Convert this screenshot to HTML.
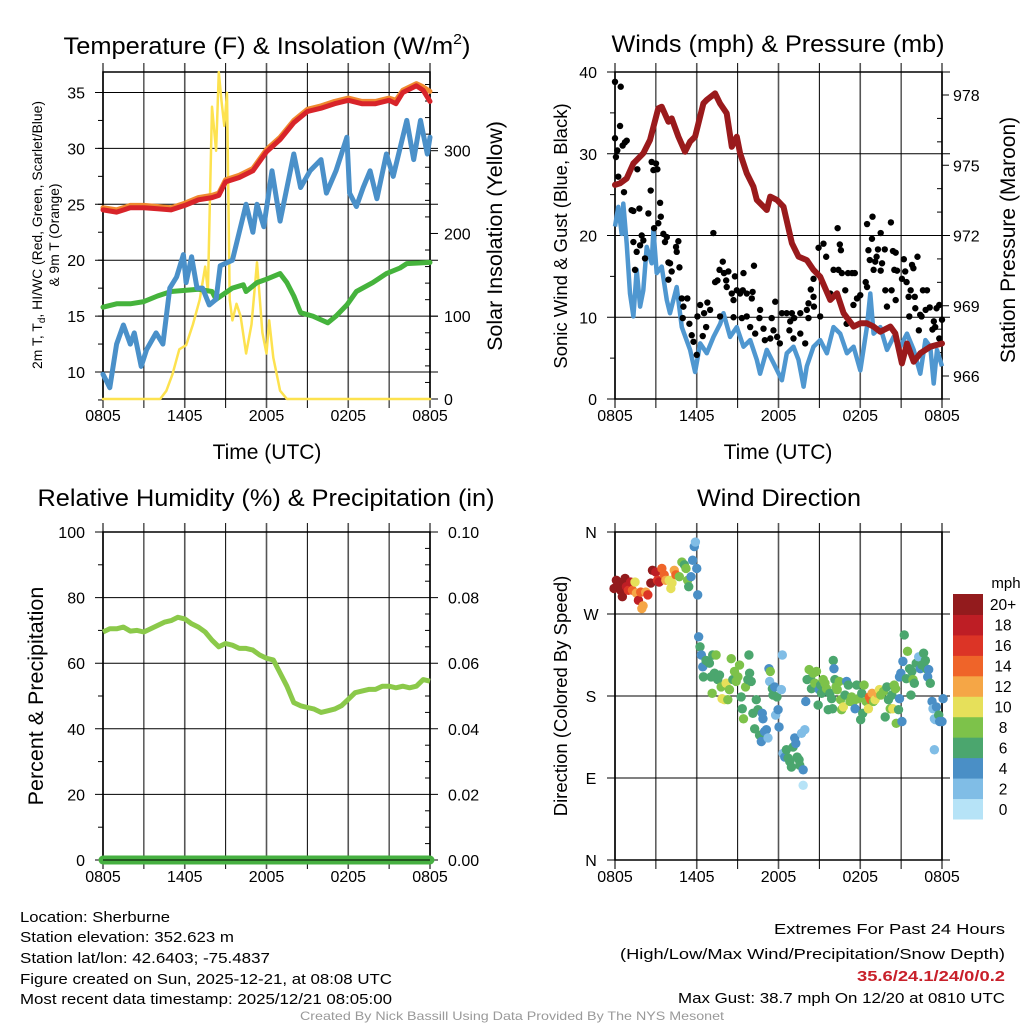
<!DOCTYPE html>
<html><head><meta charset="utf-8"><style>
html,body{margin:0;padding:0;background:#fff;}
svg{display:block;font-family:"Liberation Sans",sans-serif;}
</style></head><body>
<svg id="fig" width="1024" height="1024" viewBox="0 0 1024 1024" xmlns="http://www.w3.org/2000/svg">
<rect x="0" y="0" width="1024" height="1024" fill="#fff"/>
<g id="p1"></g>
<g id="p2"></g>
<g id="p3"></g>
<g id="p4"></g>
<g font-size="15" fill="#000">
<text x="20" y="922" textLength="150" lengthAdjust="spacingAndGlyphs">Location: Sherburne</text>
<text x="20" y="942" textLength="214" lengthAdjust="spacingAndGlyphs">Station elevation: 352.623 m</text>
<text x="20" y="963" textLength="250" lengthAdjust="spacingAndGlyphs">Station lat/lon: 42.6403; -75.4837</text>
<text x="20" y="984" textLength="372" lengthAdjust="spacingAndGlyphs">Figure created on Sun, 2025-12-21, at 08:08 UTC</text>
<text x="20" y="1004" textLength="372" lengthAdjust="spacingAndGlyphs">Most recent data timestamp: 2025/12/21 08:05:00</text>
</g>
<g font-size="15" fill="#000" text-anchor="end">
<text x="1005" y="934" textLength="231" lengthAdjust="spacingAndGlyphs">Extremes For Past 24 Hours</text>
<text x="1005" y="959" textLength="385" lengthAdjust="spacingAndGlyphs">(High/Low/Max Wind/Precipitation/Snow Depth)</text>
<text x="1005" y="981" textLength="148" lengthAdjust="spacingAndGlyphs" fill="#c8202a" font-weight="bold">35.6/24.1/24/0/0.2</text>
<text x="1005" y="1003" textLength="327" lengthAdjust="spacingAndGlyphs">Max Gust: 38.7 mph On 12/20 at 0810 UTC</text>
</g>
<text x="512" y="1020" font-size="12" fill="#999" text-anchor="middle" textLength="424" lengthAdjust="spacingAndGlyphs">Created By Nick Bassill Using Data Provided By The NYS Mesonet</text>
</svg>
<script>
// ---------- DATA ----------
const timeLabels = ["0805","1405","2005","0205","0805"];
const tempTicks = [10,15,20,25,30,35];
const insolTicks = [0,100,200,300];
const windTicks = [0,10,20,30,40];
const presTicks = [966,969,972,975,978];
const rhTicks = [0,20,40,60,80,100];
const precipTicks = ["0.00","0.02","0.04","0.06","0.08","0.10"];
const dirTicks = ["N","E","S","W","N"];
const speedBinLabels = ["0","2","4","6","8","10","12","14","16","18","20+"];

const tempHours = [0,1,2,3,4,5,6,7,8,8.5,9,10,11,12,13,14,15,16,17,18,19,20,21,21.5,22,23,23.5,24];
const tempRed = [24.5,24.3,24.7,24.7,24.6,24.5,24.9,25.4,25.6,25.8,27,27.4,28,29.7,30.8,32.3,33.3,33.6,34,34.3,34,34,34.3,34,35,35.6,35.2,34.2];
const tempOrange = [24.7,24.5,24.9,24.9,24.8,24.7,25.1,25.6,25.8,26,27.2,27.6,28.2,29.9,31,32.5,33.5,33.8,34.2,34.5,34.2,34.2,34.5,34.3,35.2,35.8,35.5,35.1];
const dewHours = [0,0.5,1,1.5,2,2.3,2.8,3.2,3.9,4.4,4.9,5.4,5.9,6.1,6.5,6.9,7.3,7.8,8.3,8.6,9.5,10.5,11,11.3,11.8,12.4,13,14,14.5,15.2,16,16.4,17.1,17.9,18.1,18.6,19.1,19.6,20.1,20.8,21.3,22.3,22.8,23.3,23.8,24];
const dewBlue = [9.8,8.6,12.5,14.2,12.5,13.5,10.5,12,13.5,12.5,17.5,18.5,20.5,18,20.3,17.5,17.5,16,16.5,19.5,20,25,22.5,25,23,28,23.5,29.5,26.5,28,29,26,28,31,26,24.8,26.5,28,25.5,29.5,27.5,32.5,29,32.5,29.5,31];
const wcHours = [0,1,2,3,4,5,6,7,8,8.3,9.5,10.3,10.5,11.3,12,13,13.5,14,14.5,15.4,16.5,17.1,17.9,18.6,19.8,20.8,21.8,22.3,24];
const wcGreen = [15.8,16.1,16.1,16.3,16.8,17.2,17.3,17.4,17.2,16.5,17.5,17.8,17.2,18,18.3,18.8,18,16.8,15.3,15,14.4,15,16,17.2,18,18.8,19.3,19.7,19.8];
const insolHours = [0,4.2,4.65,5.1,5.6,6.1,6.6,7.1,7.5,7.7,8,8.3,8.5,8.7,8.9,9.1,9.3,9.5,9.8,10.1,10.5,10.9,11.3,11.7,12,12.2,12.5,13,13.5,24];
const insolVals = [0,0,10,30,60,65,90,120,160,130,353,300,395,360,330,370,120,95,115,100,55,90,165,80,55,95,50,10,0,0];

const windHours = [0,0.24,0.49,0.61,0.86,1.1,1.35,1.59,1.84,2.08,2.33,2.69,2.82,3.06,3.43,3.8,4.04,4.53,4.9,5.51,5.88,6.25,6.74,7.23,7.72,7.96,8.45,8.94,9.43,9.92,10.41,10.65,11.14,11.63,12.25,12.61,13.1,13.47,13.84,14.08,14.57,15.06,15.55,16.04,16.53,17.02,17.51,18.0,18.49,18.74,18.98,19.47,19.96,20.45,20.94,21.43,21.92,22.41,22.78,23.14,23.39,23.63,24];
const windVals = [21.1,23.5,20.2,23.9,19.0,12.9,10.1,15.8,11.3,13.3,18.6,16.6,20.7,15.4,16.2,12.1,10.5,13.7,8.8,6.0,3.3,6.8,5.6,7.6,9.2,10.5,7.6,8.8,6.4,7.2,4.8,3.1,6.0,4.4,2.3,5.6,6.4,4.8,1.5,4.0,6.4,7.2,5.6,8.8,8.0,5.6,6.4,3.5,8.8,12.9,8.0,8.8,6.0,7.6,6.4,8.0,6.0,3.1,7.2,6.4,1.9,6.0,4.0];
const presHours = [0,0.37,0.86,1.35,2.08,2.57,3.18,3.43,3.92,4.16,4.65,5.14,5.51,5.88,6.49,6.74,7.35,7.71,8.2,8.57,8.94,9.18,9.67,10.16,10.41,11.14,11.39,11.88,12.37,12.98,13.47,14.08,14.57,15.06,15.8,16.29,16.78,17.51,18.0,18.49,18.98,19.47,20.21,20.57,21.06,21.43,21.92,22.41,23.14,24];
const presVals = [974.16,974.23,974.44,975.08,975.51,976.08,977.43,977.5,976.86,977.0,976.22,975.58,976.01,976.22,977.64,977.79,978.07,977.64,977.22,975.79,976.22,975.51,974.65,974.09,973.52,973.09,973.66,973.52,973.23,971.67,971.1,970.95,970.53,970.24,969.25,969.53,968.68,968.11,968.25,968.25,968.11,967.89,968.11,967.82,966.54,967.39,966.61,966.97,967.25,967.39];
const gustHours = [0,0.42,0,0.37,0.07,0.17,0.56,0.73,0.86,0.24,0.66,1.64,1.22,1.35,1.79,1.35,1.96,2.08,1.84,1.59,2.2,1.47,2.69,3.01,2.82,3.11,2.62,2.45,3.31,3.36,3.18,2.87,3.55,3.8,3.67,4.65,4.48,4.53,3.92,4.04,4.16,4.73,3.92,4.9,5.31,5.02,4.97,5.46,6.05,6.25,6.54,6.78,6.98,6.69,5.63,5.76,6.44,6.0,7.22,7.35,7.52,7.67,7.91,8.0,8.2,8.32,8.16,8.8,8.94,8.57,8.7,9.18,9.43,9.38,9.67,10.04,10.2,10.1,7.71,8.7,9.31,9.67,10.65,10.6,9.92,10.29,10.9,11.76,11.5,11.63,11.0,11.4,11.9,12.1,12.25,12.6,12.98,12.86,13.15,12.8,13.1,13.6,13.6,13.96,14.08,14.2,14.2,14.37,14.57,14.57,14.6,14.94,15.06,15.3,15.5,15.8,16.04,16.4,16.34,16.5,16.58,16.65,16.9,17.0,17.1,17.4,17.6,17.5,17.76,18.0,18.4,18.5,18.5,18.6,18.7,18.86,18.9,18.98,19.1,19.2,19.3,19.5,19.5,19.6,19.8,19.84,19.96,20.25,20.4,20.5,20.6,20.7,20.3,20.6,21.06,21.2,21.3,21.4,21.55,21.7,21.8,21.9,22.0,22.2,21.6,22.04,22.3,22.6,22.9,22.5,22.8,23.1,23.4,23.3,23.8,23.5,24,23.8,23.6,22.4];
const gustVals = [38.8,38.2,31.9,33.4,29.6,30.4,31.0,31.4,31.6,27.2,25.3,28.1,23.1,23.0,23.3,19.2,20.0,19.4,18.8,18.0,17.2,15.8,29.0,28.8,28.0,28.1,25.5,22.7,24.0,22.3,21.5,20.9,20.2,19.8,19.2,19.3,18.6,18.0,16.7,16.6,15.6,16.1,14.6,12.3,12.3,11.3,9.9,9.2,10.1,11.5,10.5,11.8,10.9,8.8,7.8,7.0,7.7,5.4,20.3,14.3,14.5,15.8,16.8,15.4,13.7,15.6,14.5,15.0,13.3,12.9,12.1,12.9,15.4,13.3,12.9,12.3,16.3,13.1,10.1,10.0,9.9,10.1,10.9,9.9,8.8,8.0,8.6,11.9,9.9,8.4,7.2,7.4,7.6,6.8,10.5,10.5,10.5,9.5,9.9,8.4,7.4,10.5,8.0,6.8,10.9,9.9,11.7,13.4,14.7,12.5,11.3,18.5,10.1,19.0,17.4,12.9,15.8,15.8,20.9,18.9,18.2,15.4,13.3,9.2,15.4,15.4,15.4,11.5,12.3,12.7,14.3,21.4,13.7,18.2,17.0,19.6,22.3,15.8,16.8,17.4,18.3,20.3,15.7,16.6,18.3,13.3,11.3,21.6,18.1,15.8,17.9,15.7,13.3,12.1,14.7,17.1,15.6,14.3,12.5,13.3,16.4,16.0,12.5,17.4,10.1,11.1,8.4,13.3,13.3,10.1,10.9,11.2,9.5,8.5,11.5,8.8,9.7,7.4,11.1,10.3];

const rhHours = [0,0.5,1,1.5,2,2.5,3,3.5,4,4.5,5,5.5,6,6.5,7,7.5,8,8.5,9,9.5,10,10.5,11,11.5,12,12.5,13,13.5,14,14.5,15,15.5,16,16.5,17,17.5,18,18.5,19,19.5,20,20.5,21,21.5,22,22.5,23,23.5,24];
const rhVals = [69.5,70.5,70.5,71,69.8,70,69.5,70.5,71.5,72.5,73,74,73.5,72,71,69.5,67,65,66,65.5,64.5,64.5,64,62.5,61.5,61,57,53,48,47,46.5,46,45,45.5,46,47,49,51,51.5,52,52,53,53,52.5,53,52.5,53,55,54.5];
const precipHours = [0,24];
const precipVals = [0,0];

// wind direction dots: hour, direction (deg), speed (mph)
const dirHours = [
-0.07,0.10,0.25,0.42,0.54,0.66,0.74,0.84,0.98,1.15,
1.28,1.47,1.57,1.72,1.89,1.97,2.06,2.26,2.41,2.63,
2.75,3.00,3.12,3.24,3.44,3.61,3.73,3.98,4.10,4.18,
4.35,4.47,4.72,4.91,5.09,5.21,5.33,5.41,5.58,5.70,
5.82,5.90,6.00,6.07,6.14,6.24,6.34,6.44,6.49,6.68,
6.81,6.93,7.05,7.17,7.13,7.30,7.42,7.54,7.67,7.79,
7.86,8.03,8.16,8.28,8.40,8.53,8.65,8.77,8.89,9.02,
9.14,9.26,9.34,9.43,9.58,9.75,9.83,9.88,10.0,10.12,
10.25,10.37,10.49,10.61,10.74,10.81,10.86,10.98,11.11,11.23,
11.30,11.35,11.40,11.55,11.60,11.72,11.79,11.89,11.97,12.04,
12.21,12.28,12.33,12.46,12.58,12.70,12.83,12.95,13.07,13.19,
13.27,13.37,13.51,13.56,13.69,13.81,13.81,13.93,14.0,14.10,
14.25,14.35,14.42,14.55,14.67,14.79,14.91,14.99,15.09,15.16,
15.28,15.41,15.53,15.65,15.77,15.90,15.97,16.02,16.07,16.14,
16.22,16.31,16.46,16.56,16.63,16.76,16.88,17.0,17.13,17.25,
17.37,17.49,17.62,17.74,17.86,18.03,18.11,18.18,18.28,18.43,
18.60,18.67,18.77,18.87,18.97,19.09,19.26,19.41,19.51,19.71,
19.83,19.95,20.07,20.20,20.32,20.39,20.49,20.59,20.64,20.81,
20.88,21.06,20.88,20.98,21.13,21.23,21.38,21.47,21.62,21.79,
21.87,21.72,21.97,22.11,22.29,22.41,22.53,22.65,22.78,22.85,
22.95,23.02,23.14,23.27,23.34,23.44,23.51,23.59,23.76,23.83,
24.0,24.08,23.44];
const dirDeg = [
298,307,300,296,289,304,309,300,296,305,
296,305,293,285,294,276,279,294,291,304,
318,316,307,305,320,313,307,307,298,304,
318,313,311,327,324,320,307,300,311,329,
344,349,320,291,245,234,225,212,201,219,
218,216,201,225,183,205,225,198,203,190,
177,176,194,176,187,221,198,207,196,201,
214,179,166,155,190,198,225,205,196,161,
144,176,165,137,130,161,155,141,143,134,
210,196,207,188,181,190,159,179,165,146,
187,225,117,113,121,112,108,102,124,134,
128,113,110,104,139,99,82,143,174,198,
209,199,188,205,194,207,170,187,192,183,
198,194,188,165,183,177,166,219,210,198,
190,187,196,176,165,168,181,196,192,174,
179,174,166,192,177,154,183,161,192,174,
166,179,176,183,174,176,183,187,181,185,
157,190,176,166,181,166,192,188,150,165,
177,152,201,205,218,247,199,229,210,207,
198,181,194,216,223,210,214,227,219,210,
201,209,194,174,166,155,154,168,159,152,
152,177,121];
const dirSpeed = [
20,20,20,20,20,20,20,18,16,18,
14,10,12,18,14,12,12,12,16,20,
20,18,16,18,14,14,12,10,10,10,
12,14,8,8,6,8,8,6,4,4,
4,2,4,4,4,6,4,4,6,6,
6,6,6,6,8,6,8,6,6,8,
10,10,10,8,8,8,6,8,8,8,
8,6,6,8,8,6,6,6,6,6,
6,6,6,6,4,4,4,4,4,2,
4,2,8,6,6,4,2,6,4,4,
2,2,2,4,6,6,6,6,6,4,
4,6,6,6,2,4,1,2,4,6,
8,6,6,8,8,8,6,4,6,6,
8,8,8,6,6,6,6,6,4,6,
8,8,8,8,8,10,6,4,6,8,
8,8,4,6,8,6,6,6,8,8,
10,14,14,12,8,10,12,10,8,8,
6,6,6,8,6,10,8,8,8,6,
4,4,4,4,4,6,6,8,6,6,
8,6,6,6,2,4,6,6,6,6,
4,4,6,4,2,2,2,4,6,4,
4,4,2];
const speedColors = ["#b6e3f7","#80bde6","#4a8fc6","#4ba66e","#7dc24a","#e6e05a","#f5a646","#ef6429","#dc3426","#be1e25","#931b1d"];

// ---------- HELPERS ----------
const NS = "http://www.w3.org/2000/svg";
function mk(parent, tag, attrs, text) {
  const el = document.createElementNS(NS, tag);
  for (const k in attrs) el.setAttribute(k, attrs[k]);
  if (text !== undefined) el.textContent = text;
  parent.appendChild(el);
  return el;
}
function scale(d0, d1, r0, r1) { return v => r0 + (v - d0) / (d1 - d0) * (r1 - r0); }
function pathD(xs, ys, fx, fy) {
  return xs.map((h, i) => (i ? "L" : "M") + fx(h).toFixed(1) + "," + fy(ys[i]).toFixed(1)).join("");
}
function gridAndFrame(g, x0, x1, y0, y1, hLines) {
  const fx = scale(0, 24, x0, x1);
  for (let h = 0; h <= 24; h += 3) {
    const ln = mk(g, "line", {x1: fx(h), x2: fx(h), y1: y0 - 9, y2: y1 + 9, stroke: (h % 6 === 3) ? "#000" : "#555", "stroke-width": (h % 6 === 3) ? 1 : 1.6});
    
    
  }
  hLines.forEach(y => {
    const ln = mk(g, "line", {x1: x0 - 8, x2: x1 + 8, y1: y, y2: y, stroke: "#000", "stroke-width": 1});
    
    
  });
  const fr = mk(g, "rect", {x: x0, y: y0, width: x1 - x0, height: y1 - y0, fill: "none", stroke: "#000", "stroke-width": 1.5});
  
  
  timeLabels.forEach((t, i) => {
    const tx = mk(g, "text", {x: fx(i * 6), y: y1 + 22, "font-size": 16, "text-anchor": "middle"}, t);
    
    
  });
  return fx;
}
function title(g, x, y, s, name, len) {
  const t = mk(g, "text", {x: x, y: y, "font-size": 24, "text-anchor": "middle", textLength: len, lengthAdjust: "spacingAndGlyphs"}, s);
  
  
  return t;
}
function vlabel(g, x, y, s, size, name) {
  const t = mk(g, "text", {x: 0, y: 0, "font-size": size, "text-anchor": "middle", transform: "translate(" + x + "," + y + ") rotate(-90)"}, s);
  
  
  return t;
}

// ---------- PANEL 1: Temperature ----------
(function () {
  const g = document.getElementById("p1");
  const X0 = 103, X1 = 430, Y0 = 72, Y1 = 399;
  const fyT = scale(10, 35, 372, 92.5);
  const fyI = scale(0, 300, 399, 150.7);
  const fx = gridAndFrame(g, X0, X1, Y0, Y1, tempTicks.map(fyT));
  for (let v = 20; v <= 380; v += 20) {
    const y = fyI(v);
    const tk = mk(g, "line", {x1: X1, x2: X1 - (v % 100 ? 5 : 0), y1: y, y2: y, stroke: "#000"});
    
    
  }
  for (let v = 7.5; v < 37; v += 2.5) {
    const tk = mk(g, "line", {x1: X0, x2: X0 - 5, y1: fyT(v), y2: fyT(v), stroke: "#000"});
    
    
  }
  insolTicks.forEach(v => {
    const y = fyI(v);
    const tk = mk(g, "line", {x1: X1, x2: X1 + 8, y1: y, y2: y, stroke: "#000"});
    
    
    const t = mk(g, "text", {x: X1 + 14, y: y + 6, "font-size": 16}, v);
    
    
  });
  tempTicks.forEach(v => {
    const t = mk(g, "text", {x: 85, y: fyT(v) + 6, "font-size": 16, "text-anchor": "end"}, v);
    
    
  });
  const s = {fill: "none", "stroke-linejoin": "round", "stroke-linecap": "round"};
  let p;
  p = mk(g, "path", Object.assign({d: pathD(insolHours, insolVals, fx, fyI), stroke: "#fde24f", "stroke-width": 2.5}, s));
   
  p = mk(g, "path", Object.assign({d: pathD(wcHours, wcGreen, fx, fyT), stroke: "#45b33c", "stroke-width": 5}, s));
   
  p = mk(g, "path", Object.assign({d: pathD(dewHours, dewBlue, fx, fyT), stroke: "#4a90c9", "stroke-width": 5}, s));
   
  p = mk(g, "path", Object.assign({d: pathD(tempHours, tempOrange, fx, fyT), stroke: "#f08a30", "stroke-width": 5}, s));
   
  p = mk(g, "path", Object.assign({d: pathD(tempHours, tempRed, fx, fyT), stroke: "#d8242a", "stroke-width": 5}, s));
   
  const t = mk(g, "text", {x: 267, y: 54, "font-size": 24, "text-anchor": "middle", textLength: 407, lengthAdjust: "spacingAndGlyphs"});
   
  t.appendChild(document.createTextNode("Temperature (F) & Insolation (W/m"));
  mk(t, "tspan", {"font-size": 15, dy: -10}, "2");
  mk(t, "tspan", {dy: 10}, ")");
  const yl = mk(g, "text", {x: 0, y: 0, "font-size": 14, "text-anchor": "middle", transform: "translate(42,235) rotate(-90)", textLength: 268, lengthAdjust: "spacingAndGlyphs"});
   
  yl.appendChild(document.createTextNode("2m T, T"));
  mk(yl, "tspan", {"font-size": 10, dy: 3}, "d");
  mk(yl, "tspan", {dy: -3}, ", HI/WC (Red, Green, Scarlet/Blue)");
  const yl2 = mk(g, "text", {x: 0, y: 0, "font-size": 14, "text-anchor": "middle", transform: "translate(59,235) rotate(-90)", textLength: 103, lengthAdjust: "spacingAndGlyphs"}, "& 9m T (Orange)");
   
  vlabel(g, 502, 236, "Solar Insolation (Yellow)", 21.5, "insolation-y-axis-title");
  const xt = mk(g, "text", {x: 267, y: 459, "font-size": 21, "text-anchor": "middle"}, "Time (UTC)");
   
})();

// ---------- PANEL 2: Winds ----------
(function () {
  const g = document.getElementById("p2");
  const X0 = 615, X1 = 942, Y0 = 72, Y1 = 399;
  const fyW = scale(0, 40, 399, 72);
  const fyP = scale(966, 978, 376, 95);
  const fx = gridAndFrame(g, X0, X1, Y0, Y1, windTicks.map(fyW));
  for (let v = 5; v < 40; v += 10) {
    const tk = mk(g, "line", {x1: X0, x2: X0 - 5, y1: fyW(v), y2: fyW(v), stroke: "#000"});
     
  }
  for (let v = 966; v <= 978; v += 1) {
    const major = presTicks.indexOf(v) >= 0;
    const tk = mk(g, "line", {x1: X1, x2: X1 + (major ? 7 : -5), y1: fyP(v), y2: fyP(v), stroke: "#000"});
     
  }
  windTicks.forEach(v => {
    const t = mk(g, "text", {x: 597, y: fyW(v) + 6, "font-size": 16, "text-anchor": "end"}, v);
     
  });
  presTicks.forEach(v => {
    const t = mk(g, "text", {x: 953, y: fyP(v) + 6, "font-size": 16}, v);
     
  });
  let p = mk(g, "path", {d: pathD(windHours, windVals, fx, fyW), fill: "none", stroke: "#4f97d0", "stroke-width": 4.5, "stroke-linejoin": "round"});
   
  gustHours.forEach((h, i) => {
    const c = mk(g, "circle", {cx: fx(h), cy: fyW(gustVals[i]), r: 3.2, fill: "#000"});
    
    
  });
  p = mk(g, "path", {d: pathD(presHours, presVals, fx, fyP), fill: "none", stroke: "#9a1a1c", "stroke-width": 6, "stroke-linejoin": "round", "stroke-linecap": "round"});
   
  title(g, 778, 52, "Winds (mph) & Pressure (mb)", "winds-title", 333);
  vlabel(g, 567, 236, "Sonic Wind & Gust (Blue, Black)", 18.5, "wind-y-axis-title");
  vlabel(g, 1015, 240, "Station Pressure (Maroon)", 21, "pressure-y-axis-title");
  const xt = mk(g, "text", {x: 778, y: 459, "font-size": 21, "text-anchor": "middle"}, "Time (UTC)");
   
})();

// ---------- PANEL 3: RH ----------
(function () {
  const g = document.getElementById("p3");
  const X0 = 103, X1 = 430, Y0 = 532, Y1 = 860;
  const fyR = scale(0, 100, 860, 532);
  const fyPr = scale(0, 0.1, 860, 532);
  const fx = gridAndFrame(g, X0, X1, Y0, Y1, rhTicks.map(fyR));
  for (let v = 10; v < 100; v += 20) {
    const tk = mk(g, "line", {x1: X0, x2: X0 - 5, y1: fyR(v), y2: fyR(v), stroke: "#000"});
     
  }
  for (let v = 5; v < 100; v += 5) {
    if (v % 20 === 0) continue;
    const tk = mk(g, "line", {x1: X1, x2: X1 - 5, y1: fyR(v), y2: fyR(v), stroke: "#000"});
     
  }
  rhTicks.forEach(v => {
    const t = mk(g, "text", {x: 85, y: fyR(v) + 6, "font-size": 16, "text-anchor": "end"}, v);
     
  });
  precipTicks.forEach(v => {
    const t = mk(g, "text", {x: 448, y: fyPr(parseFloat(v)) + 6, "font-size": 16}, v);
     
  });
  let p = mk(g, "path", {d: pathD(rhHours, rhVals, fx, fyR), fill: "none", stroke: "#8bc94a", "stroke-width": 5, "stroke-linejoin": "round"});
   
  p = mk(g, "path", {d: pathD(precipHours, precipVals, fx, fyPr), fill: "none", stroke: "#46b041", "stroke-width": 9, "stroke-linecap": "round"});
   
  mk(g, "line", {x1: X0, x2: X1, y1: Y1, y2: Y1, stroke: "#000", "stroke-width": 1});
  title(g, 266, 506, "Relative Humidity (%) & Precipitation (in)", "humidity-title", 457);
  vlabel(g, 43, 696, "Percent & Precipitation", 21.5, "rh-y-axis-title");
})();

// ---------- PANEL 4: Wind Direction ----------
(function () {
  const g = document.getElementById("p4");
  const X0 = 615, X1 = 942, Y0 = 532, Y1 = 860;
  const fyD = scale(0, 360, 860, 532);
  const fx = gridAndFrame(g, X0, X1, Y0, Y1, [0, 90, 180, 270, 360].map(fyD));
  dirTicks.forEach((s, i) => {
    const t = mk(g, "text", {x: 591, y: fyD(i * 90) + 6, "font-size": 16, "text-anchor": "middle"}, s);
     
  });
  dirHours.forEach((h, i) => {
    const ci = Math.min(10, Math.floor(dirSpeed[i] / 2));
    const c = mk(g, "circle", {cx: fx(h), cy: fyD(dirDeg[i]), r: 4.7, fill: speedColors[ci]});
    
    
  });
  const cb = mk(g, "g", {});
  
  
  const bh = 225 / 11;
  speedBinLabels.forEach((lab, i) => {
    const y = 819 - (i + 1) * bh;
    const r = mk(cb, "rect", {x: 953, y: y, width: 30, height: bh + 0.5, fill: speedColors[i]});
    
    
    const t = mk(cb, "text", {x: 1003, y: y + bh / 2 + 6, "font-size": 15.5, "text-anchor": "middle"}, lab);
    
    
  });
  const u = mk(cb, "text", {x: 1006, y: 588, "font-size": 15, "text-anchor": "middle"}, "mph");
   
  title(g, 779, 506, "Wind Direction", "wind-direction-title", 164);
  vlabel(g, 567, 696, "Direction (Colored By Speed)", 18.5, "direction-y-axis-title");
})();
</script>
</body></html>
